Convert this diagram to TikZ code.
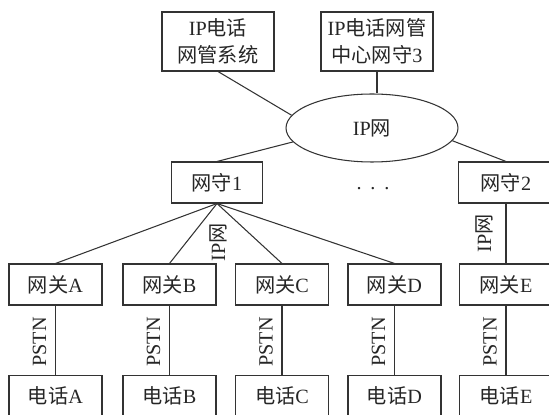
\documentclass[tikz,border=0pt]{standalone}
\usepackage{fontspec}
\setmainfont{Liberation Serif}
\newfontfamily\cjk{Noto Sans CJK SC}
\newcommand{\zh}[1]{{\cjk #1}}
\usepackage{tikz}
\usetikzlibrary{shapes.geometric}

\begin{document}
\begin{tikzpicture}[x=0.02cm, y=-0.02cm,
  every node/.style={font=\fontsize{11.5}{15.5}\selectfont, text=black!85},
  mgmt/.style={draw=black!80, line width=0.6pt, minimum width=2.24cm, minimum height=1.18cm, inner sep=1pt, align=center},
  net/.style={draw=black!80, line width=0.6pt, ellipse, minimum width=3.44cm, minimum height=1.36cm, inner sep=0pt},
  gk/.style={draw=black!80, line width=0.6pt, minimum width=1.82cm, minimum height=0.82cm, inner sep=1pt},
  gw/.style={draw=black!80, line width=0.6pt, minimum width=1.86cm, minimum height=0.82cm, inner sep=1pt},
  link/.style={draw=black!80, line width=0.6pt},
  lbl/.style={rotate=90, inner sep=0pt},
]
\useasboundingbox (0,0) rectangle (549,415);
\clip (0,0) rectangle (549,415);

% ── management / core ──
\node[mgmt] (nms) at (218,41.5) {IP\zh{电话}\\\zh{网管系统}};
\node[mgmt] (gk3) at (377,41.5) {IP\zh{电话网管}\\\zh{中心网守}3};
\node[net]  (ip)  at (372,128) {IP\zh{网}};

\draw[link] (nms.south) -- (ip.171);
\draw[link] (gk3.south) -- (gk3.south |- ip.north);

% ── gatekeepers ──
\node[gk] (gk1) at (217,182.5) {\zh{网守}1};
\node[gk, minimum width=1.9cm] (gk2) at (506,182.5) {\zh{网守}2};
\node[anchor=base] (dots) at (373,190) {.\hspace{5pt}.\hspace{5pt}.};

\draw[link] (ip.190) -- (gk1.north);
\draw[link] (ip.-9)  -- (gk2.north);

% ── gateways and phones ──
\foreach \n/\x in {A/55.5, B/169.5, C/282, D/394.5, E/506}{
  \node[gw] (gw\n)  at (\x,284.5) {\zh{网关}\n};
  \node[gw] (tel\n) at (\x,396)   {\zh{电话}\n};
  \draw[link] (gw\n.south) -- (tel\n.north);
  \node[lbl] (pstn\n) at (\x-16,342) {PSTN};
}

\foreach \n in {A,B,C,D}
  \draw[link] (gk1.south) -- (gw\n.north);
\draw[link] (gk2.south) -- (gwE.north);

\node[lbl] (ipa) at (218,242) {IP\zh{网}};
\node[lbl] (ipb) at (484,233) {IP\zh{网}};

\end{tikzpicture}
\end{document}
